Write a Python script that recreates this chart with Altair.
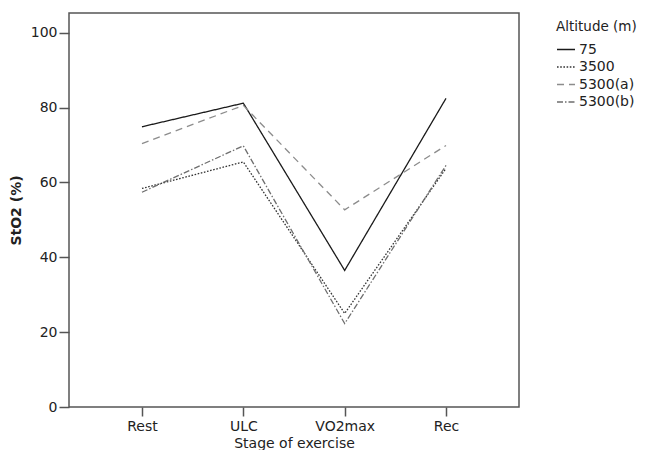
import altair as alt
import pandas as pd

stages = ["Rest", "ULC", "VO2max", "Rec"]
altitudes = ["75", "3500", "5300(a)", "5300(b)"]
sto2_75 = [74.9, 81.2, 36.5, 82.5]
sto2_3500 = [58.4, 65.5, 25.0, 63.8]
sto2_5300a = [70.4, 80.6, 52.7, 69.9]
sto2_5300b = [57.4, 69.8, 22.3, 64.6]

rows = []
for alt_name, vals in zip(altitudes, [sto2_75, sto2_3500, sto2_5300a, sto2_5300b]):
    for s, v in zip(stages, vals):
        rows.append({"Stage": s, "Altitude": alt_name, "StO2": v})
df = pd.DataFrame(rows)

FONT = "DejaVu Sans"
FS = 14

chart = alt.Chart(df).mark_line(strokeWidth=1.3).encode(
    x=alt.X("Stage:N", sort=stages, title="Stage of exercise",
            scale=alt.Scale(type="point", padding=0.72),
            axis=alt.Axis(labelAngle=0, tickSize=9, labelPadding=3, titlePadding=3,
                          domain=False, grid=False)),
    y=alt.Y("StO2:Q", title="StO2 (%)",
            scale=alt.Scale(domain=[0, 105.3], nice=False, zero=True),
            axis=alt.Axis(values=[0, 20, 40, 60, 80, 100], tickSize=10, labelPadding=2,
                          titlePadding=7, domain=False, grid=False, titleFontWeight="bold")),
    color=alt.Color("Altitude:N", sort=altitudes, title="Altitude (m)",
                    scale=alt.Scale(domain=altitudes, range=["#1a1a1a", "#333333", "#8c8c8c", "#6e6e6e"])),
    strokeDash=alt.StrokeDash("Altitude:N", sort=altitudes, title="Altitude (m)",
                              scale=alt.Scale(domain=altitudes,
                                              range=[[1, 0], [1.6, 1.6], [7, 5], [6, 2, 1.5, 2]])),
    detail="Altitude:N",
).properties(
    width=450, height=394,
    autosize=alt.AutoSizeParams(type="none"),
    padding={"left": 61, "top": 5, "right": 119, "bottom": 43},
).configure_view(
    stroke="#555555", strokeWidth=1.5
).configure_axis(
    labelFont=FONT, titleFont=FONT, labelFontSize=FS, titleFontSize=FS,
    labelColor="#222222", titleColor="#222222", tickColor="#555555", tickWidth=1.5,
    titleFontWeight="normal"
).configure_legend(
    orient="none", legendX=487, legendY=7,
    titleFont=FONT, labelFont=FONT, titleFontSize=13.5, labelFontSize=FS,
    titleFontWeight="normal", titleColor="#222222", labelColor="#222222",
    symbolType="stroke", symbolSize=324, symbolStrokeWidth=1.3,
    rowPadding=0.5, labelOffset=3, titlePadding=6
)

chart.save("out.html", embed_options={"renderer": "svg", "actions": False})
